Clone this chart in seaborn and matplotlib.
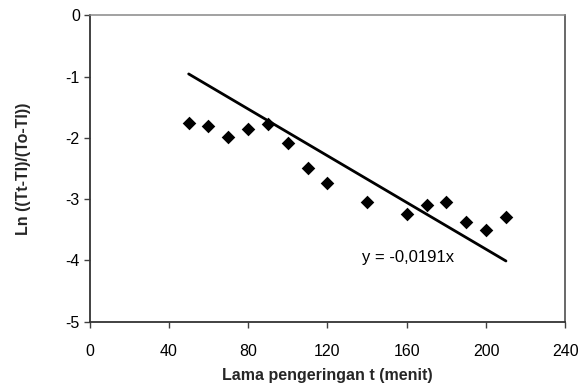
import matplotlib
matplotlib.use("Agg")
import matplotlib.pyplot as plt
import seaborn as sns
import numpy as np
import pandas as pd

t_menit = [50, 60, 70, 80, 90, 100, 110, 120, 140, 160, 170, 180, 190, 200, 210]
ln_ratio = [-1.76, -1.80, -1.98, -1.85, -1.78, -2.08, -2.49, -2.73, -3.04,
            -3.25, -3.10, -3.05, -3.37, -3.50, -3.29]
slope = -0.0191
fit_range = [50, 210]
x_ticks = [0, 40, 80, 120, 160, 200, 240]
y_ticks = [0, -1, -2, -3, -4, -5]

sns.set_theme(style="white")
plt.rcParams['font.family'] = ['Liberation Sans', 'DejaVu Sans']
plt.rcParams['axes.unicode_minus'] = False

df = pd.DataFrame({"t": t_menit, "ln": ln_ratio})
fit_x = np.array(fit_range, dtype=float)
fit_df = pd.DataFrame({"t": fit_x, "ln": slope * fit_x})

fig = plt.figure(figsize=(5.79, 3.91), dpi=100)
ax = fig.add_axes([0.1546, 0.1777, 0.822, 0.7827])

sns.lineplot(data=fit_df, x="t", y="ln", ax=ax, color="black", linewidth=2.0)
sns.scatterplot(data=df, x="t", y="ln", ax=ax, marker="D", color="black",
                s=48, edgecolor="black", linewidth=0, zorder=3)

ax.set_xlim(0, 240)
ax.set_ylim(-5, 0)
ax.set_xticks(x_ticks)
ax.set_yticks(y_ticks)
ax.tick_params(axis="both", direction="out", length=4, width=1, color="#404040",
               labelsize=11.5, labelcolor="black", left=True, bottom=True)
ax.tick_params(axis="x", pad=12)
ax.tick_params(axis="y", pad=3)

ax.set_xlabel("Lama pengeringan t (menit)", fontsize=11.5, fontweight="bold", labelpad=7)
ax.set_ylabel("Ln ((Tt-Tl)/(To-Tl))", fontsize=11.5, fontweight="bold", labelpad=25)

for side in ["left", "bottom"]:
    ax.spines[side].set_color("#333333")
    ax.spines[side].set_linewidth(1.3)
ax.spines["right"].set_color("#404040")
ax.spines["right"].set_linewidth(1.1)
ax.spines["top"].set_color("#888888")
ax.spines["top"].set_linewidth(1.1)

ax.text(137.4, -3.95, "y = -0,0191x", fontsize=12, ha="left", va="center", color="black")

fig.savefig("out.png", dpi=100)
